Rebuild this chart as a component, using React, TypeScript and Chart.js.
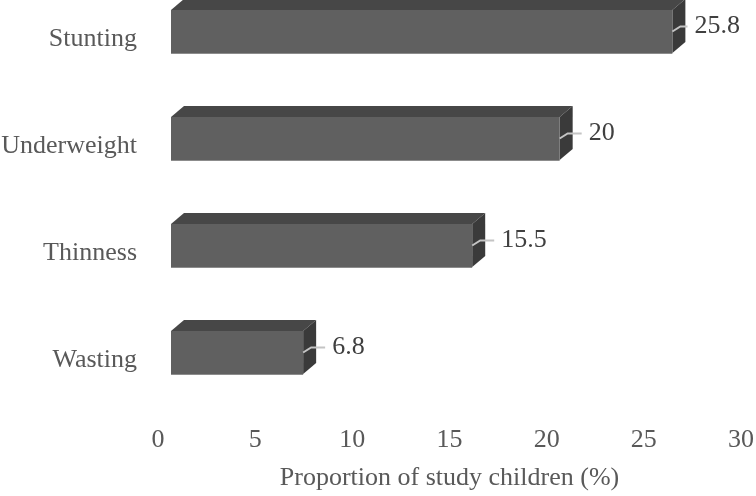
import React, { useEffect, useRef } from "react";
import { Chart, registerables } from "chart.js";

Chart.register(...registerables);

// ---- data ----
const categories = ["Stunting", "Underweight", "Thinness", "Wasting"];
const values = [25.8, 20, 15.5, 6.8];
const valueLabels = ["25.8", "20", "15.5", "6.8"];
const xMin = 0;
const xMax = 30;
const xStep = 5;
const xTitle = "Proportion of study children (%)";

const FONT = "'Liberation Serif', 'Times New Roman', Times, serif";
const W = 756;
const H = 496;

const bar3d = {
  id: "bar3d",
  afterDatasetsDraw(chart: any) {
    const ctx = chart.ctx as CanvasRenderingContext2D;
    const meta = chart.getDatasetMeta(0);
    const dx = 13, dy = -8; // axis -> bar front face
    const ddx = 13, ddy = -11; // bar depth
    ctx.save();
    meta.data.forEach((el: any, i: number) => {
      const { x, y, base, height } = el.getProps(["x", "y", "base", "height"], true);
      const x0 = base + dx;
      const x1 = x + dx;
      const yt = y - height / 2 + dy;
      const yb = y + height / 2 + dy;
      // top face
      ctx.fillStyle = "#474747";
      ctx.beginPath();
      ctx.moveTo(x0, yt);
      ctx.lineTo(x1, yt);
      ctx.lineTo(x1 + ddx, yt + ddy);
      ctx.lineTo(x0 + ddx, yt + ddy);
      ctx.closePath();
      ctx.fill();
      // side face
      ctx.fillStyle = "#3a3a3a";
      ctx.beginPath();
      ctx.moveTo(x1, yt);
      ctx.lineTo(x1 + ddx, yt + ddy);
      ctx.lineTo(x1 + ddx, yb + ddy);
      ctx.lineTo(x1, yb);
      ctx.closePath();
      ctx.fill();
      // front face
      ctx.fillStyle = "#606060";
      ctx.fillRect(x0, yt, x1 - x0, yb - yt);
      ctx.strokeStyle = "#8c8c8c";
      ctx.lineWidth = 1;
      ctx.beginPath();
      ctx.moveTo(x0, yb + 0.5);
      ctx.lineTo(x1, yb + 0.5);
      ctx.stroke();

      // value label + leader line
      const fc = (yt + yb) / 2;
      const ly = fc - 5;
      ctx.font = `26px ${FONT}`;
      const txt = valueLabels[i];
      const tw = ctx.measureText(txt).width;
      let lx = x1 + 29;
      if (lx + tw > 740) lx = 740 - tw;
      ctx.strokeStyle = "#c4c4c4";
      ctx.lineWidth = 2;
      ctx.beginPath();
      ctx.moveTo(x1, fc);
      ctx.lineTo(x1 + 8, ly);
      ctx.lineTo(lx - 7, ly);
      ctx.stroke();
      ctx.fillStyle = "#404040";
      ctx.textAlign = "left";
      ctx.textBaseline = "middle";
      ctx.fillText(txt, lx, ly);
    });
    ctx.restore();
  },
};

export default function App() {
  const ref = useRef<HTMLCanvasElement | null>(null);
  useEffect(() => {
    if (!ref.current) return;
    const chart = new Chart(ref.current, {
      type: "bar",
      data: {
        labels: categories,
        datasets: [
          {
            data: values,
            backgroundColor: "rgba(0,0,0,0)",
            borderWidth: 0,
            barThickness: 43,
          },
        ],
      },
      options: {
        indexAxis: "y",
        responsive: false,
        animation: false,
        devicePixelRatio: 1,
        layout: { padding: { left: 0, right: 15, top: 39.5, bottom: 2.5 } },
        plugins: {
          legend: { display: false },
          tooltip: { enabled: false },
        },
        scales: {
          y: {
            type: "category",
            offset: false,
            grid: { display: false, drawTicks: false },
            border: { display: false },
            ticks: {
              padding: 21,
              color: "#595959",
              font: { family: FONT, size: 26 },
            },
            afterFit(scale: any) {
              scale.width = 158;
            },
          },
          x: {
            type: "linear",
            min: xMin,
            max: xMax,
            grid: { display: false, drawTicks: false },
            border: { display: false },
            ticks: {
              stepSize: xStep,
              padding: 64,
              color: "#595959",
              font: { family: FONT, size: 26 },
            },
            title: {
              display: true,
              text: xTitle,
              color: "#595959",
              font: { family: FONT, size: 26 },
              padding: { top: 0, bottom: 0 },
            },
            afterFit(scale: any) {
              scale.paddingLeft = 0;
              scale.paddingRight = 0;
              scale.height = 133;
            },
          },
        },
      },
      plugins: [bar3d],
    });
    return () => chart.destroy();
  }, []);
  return (
    <div style={{ position: "fixed", left: 0, top: 0, width: W, height: H, background: "#fff" }}>
      <canvas ref={ref} width={W} height={H} style={{ width: W, height: H, display: "block" }} />
    </div>
  );
}
